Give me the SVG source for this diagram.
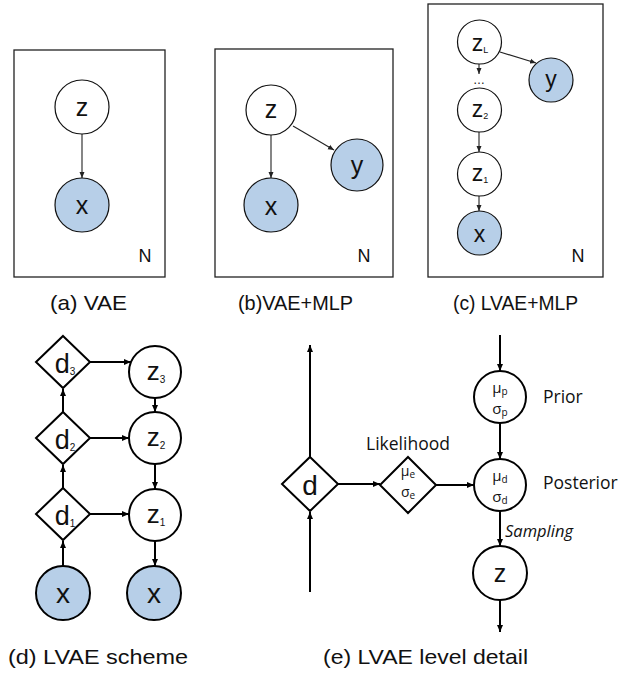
<svg xmlns="http://www.w3.org/2000/svg" width="636" height="673" viewBox="0 0 636 673">
<style>
.box{fill:none;stroke:#222;stroke-width:1.3}
.n1{fill:#fff;stroke:#111;stroke-width:1.2}
.n1o{fill:#b7cfe8;stroke:#111;stroke-width:1.2}
.n2{fill:#fff;stroke:#000;stroke-width:2}
.n2o{fill:#b7cfe8;stroke:#000;stroke-width:2}
.c1{stroke:#222;stroke-width:1.1;fill:none;marker-end:url(#a1)}
.c2{stroke:#000;stroke-width:2;fill:none;marker-end:url(#a2)}
.g{font-family:"Liberation Sans","DejaVu Sans",sans-serif;fill:#111}
.k{font-family:"Open Sans","Noto Sans",sans-serif;fill:#111}
.m{text-anchor:middle}
</style>
<defs>
<marker id="a1" markerUnits="userSpaceOnUse" markerWidth="6" markerHeight="6" refX="6" refY="3" orient="auto"><path d="M0,0.5 L6,3 L0,5.5 z" fill="#222"/></marker>
<marker id="a2" markerUnits="userSpaceOnUse" markerWidth="8" markerHeight="8" refX="7" refY="4" orient="auto"><path d="M0,1 L7,4 L0,7 z" fill="#000"/></marker>
</defs>

<!-- panel boxes -->
<rect class="box" x="14" y="50" width="151" height="227"/>
<rect class="box" x="215" y="49" width="178" height="228"/>
<rect class="box" x="428" y="4" width="175" height="273"/>
<text class="g" x="145" y="262" font-size="18" text-anchor="middle">N</text>
<text class="g" x="364" y="262" font-size="18" text-anchor="middle">N</text>
<text class="g" x="578" y="262" font-size="18" text-anchor="middle">N</text>

<!-- connectors -->
<g id="connectors">
<line class="c1" x1="82" y1="134" x2="82" y2="178"/>
<line class="c1" x1="271" y1="135" x2="271" y2="178"/>
<line class="c1" x1="293" y1="126" x2="334" y2="150"/>
<line class="c1" x1="479" y1="64" x2="479" y2="74"/>
<line class="c1" x1="500" y1="52" x2="536" y2="63"/>
<line class="c1" x1="479" y1="132" x2="479" y2="152"/>
<line class="c1" x1="479" y1="196" x2="479" y2="211"/>

<line class="c2" x1="63" y1="566" x2="63" y2="541"/>
<line class="c2" x1="63" y1="488" x2="63" y2="465"/>
<line class="c2" x1="63" y1="412" x2="63" y2="389"/>
<line class="c2" x1="90" y1="362" x2="131" y2="362"/>
<line class="c2" x1="90" y1="438" x2="129" y2="438"/>
<line class="c2" x1="90" y1="514" x2="129" y2="514"/>
<line class="c2" x1="155" y1="398" x2="155" y2="412"/>
<line class="c2" x1="155" y1="464" x2="155" y2="489"/>
<line class="c2" x1="155" y1="541" x2="155" y2="566"/>

<line class="c2" x1="310" y1="457" x2="310" y2="345"/>
<line class="c2" x1="310" y1="592" x2="310" y2="512"/>
<line class="c2" x1="338" y1="484" x2="380" y2="484"/>
<line class="c2" x1="436" y1="485" x2="474" y2="485"/>
<line class="c2" x1="500" y1="335" x2="500" y2="371"/>
<line class="c2" x1="500" y1="423" x2="500" y2="459"/>
<line class="c2" x1="500" y1="511" x2="500" y2="546"/>
<line class="c2" x1="500" y1="600" x2="500" y2="632"/>
</g>

<!-- (a) -->
<g id="a-z"><circle class="n1" cx="82" cy="107" r="27"/><text class="g m" x="82" y="116" font-size="25">z</text></g>
<g id="a-x"><circle class="n1o" cx="82" cy="205" r="27"/><text class="g m" x="82" y="214" font-size="25">x</text></g>

<!-- (b) -->
<g id="b-z"><circle class="n1" cx="271" cy="110" r="25"/><text class="g m" x="271" y="118" font-size="25">z</text></g>
<g id="b-y"><circle class="n1o" cx="357" cy="165" r="26"/><text class="g m" x="357" y="174" font-size="25">y</text></g>
<g id="b-x"><circle class="n1o" cx="271" cy="205" r="27"/><text class="g m" x="271" y="215" font-size="25">x</text></g>

<!-- (c) -->
<g id="c-zL"><circle class="n1" cx="479.5" cy="42" r="22"/><text class="g m" x="480" y="51" font-size="23">z<tspan font-size="9" dy="2">L</tspan></text></g>
<g id="c-y"><circle class="n1o" cx="551" cy="80" r="22"/><text class="g m" x="551" y="87" font-size="23">y</text></g>
<text class="g m" x="479" y="84" font-size="12">…</text>
<g id="c-z2"><circle class="n1" cx="479.5" cy="110" r="22"/><text class="g m" x="480" y="117" font-size="23">z<tspan font-size="9" dy="2">2</tspan></text></g>
<g id="c-z1"><circle class="n1" cx="479.5" cy="174" r="22"/><text class="g m" x="480" y="181" font-size="23">z<tspan font-size="9" dy="2">1</tspan></text></g>
<g id="c-x"><circle class="n1o" cx="479.5" cy="233" r="22"/><text class="g m" x="479.5" y="242" font-size="23">x</text></g>

<!-- labels top -->
<text class="g" x="50" y="310" font-size="21" textLength="77" lengthAdjust="spacingAndGlyphs">(a) VAE</text>
<text class="g" x="238" y="310" font-size="21" textLength="115" lengthAdjust="spacingAndGlyphs">(b)VAE+MLP</text>
<text class="g" x="453" y="310" font-size="21" textLength="125" lengthAdjust="spacingAndGlyphs">(c) LVAE+MLP</text>

<!-- (d) -->
<g id="d-d3"><polygon class="n2" points="63,336 90,362 63,388 36,362"/><text class="g m" x="65" y="373" font-size="27">d<tspan font-size="10" dy="2">3</tspan></text></g>
<g id="d-d2"><polygon class="n2" points="63,412 90,438 63,464 36,438"/><text class="g m" x="65" y="449" font-size="27">d<tspan font-size="10" dy="2">2</tspan></text></g>
<g id="d-d1"><polygon class="n2" points="63,488 90,514 63,540 36,514"/><text class="g m" x="65" y="525" font-size="27">d<tspan font-size="10" dy="2">1</tspan></text></g>
<g id="d-z3"><circle class="n2" cx="155" cy="372" r="26"/><text class="g m" x="156" y="380" font-size="26">z<tspan font-size="10" dy="3">3</tspan></text></g>
<g id="d-z2"><circle class="n2" cx="155" cy="438" r="26"/><text class="g m" x="156" y="446" font-size="26">z<tspan font-size="10" dy="3">2</tspan></text></g>
<g id="d-z1"><circle class="n2" cx="155" cy="515" r="26"/><text class="g m" x="156" y="523" font-size="26">z<tspan font-size="10" dy="3">1</tspan></text></g>
<g id="d-x1"><circle class="n2o" cx="63" cy="593" r="27"/><text class="g m" x="63" y="603" font-size="28">x</text></g>
<g id="d-x2"><circle class="n2o" cx="154" cy="593" r="27"/><text class="g m" x="154" y="603" font-size="28">x</text></g>

<!-- (e) -->
<g id="e-d"><polygon class="n2" points="310,457 338,484 310,511 282,484"/><text class="g m" x="310" y="495" font-size="28">d</text></g>
<g id="e-lik"><polygon class="n2" points="408,457 436,485 408,513 380,485"/>
<text class="k m" x="408" y="476" font-size="14">μ<tspan font-size="10" dy="2">e</tspan></text>
<text class="k m" x="408" y="497" font-size="14">σ<tspan font-size="10" dy="2">e</tspan></text></g>
<text class="k" x="366" y="450" font-size="17.5">Likelihood</text>
<g id="e-prior"><circle class="n2" cx="500" cy="397" r="26"/>
<text class="k m" x="500" y="393" font-size="15">μ<tspan font-size="10" dy="2">p</tspan></text>
<text class="k m" x="500" y="414" font-size="15">σ<tspan font-size="10" dy="2">p</tspan></text></g>
<text class="k" x="543" y="403" font-size="17.5">Prior</text>
<g id="e-post"><circle class="n2" cx="500" cy="485" r="26"/>
<text class="k m" x="500" y="481" font-size="15">μ<tspan font-size="10" dy="2">d</tspan></text>
<text class="k m" x="500" y="502" font-size="15">σ<tspan font-size="10" dy="2">d</tspan></text></g>
<text class="k" x="543" y="489" font-size="17.5">Posterior</text>
<text class="k" x="505" y="537" font-size="16.5" font-style="italic">Sampling</text>
<g id="e-z"><circle class="n2" cx="500" cy="573" r="27"/><text class="g m" x="500" y="582" font-size="25">z</text></g>

<!-- labels bottom -->
<text class="g" x="8" y="664" font-size="21" textLength="180" lengthAdjust="spacingAndGlyphs">(d)  LVAE scheme</text>
<text class="g" x="323" y="664" font-size="21" textLength="205" lengthAdjust="spacingAndGlyphs">(e)  LVAE level detail</text>
</svg>
